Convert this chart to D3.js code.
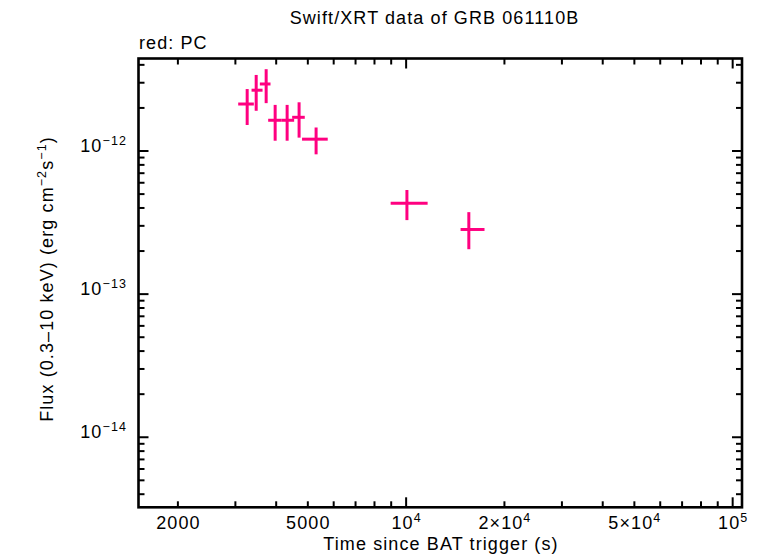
<!DOCTYPE html>
<html>
<head>
<meta charset="utf-8">
<script src="https://cdn.jsdelivr.net/npm/d3@7"></script>
<style>
  body { margin: 0; background: #fff; }
  text { font-family: "Liberation Sans", Arial, sans-serif; letter-spacing: 1.1px; fill: #000; }
</style>
</head>
<body>
<svg id="chart" width="761" height="558"></svg>
<script>
// 数据 (PC 模式)
const time    = [3260, 3474, 3727, 3971, 4321, 4701, 5300, 10056, 15560];
const timeLo  = [3060, 3362, 3565, 3780, 4147, 4477, 4800, 8966, 14680];
const timeHi  = [3417, 3633, 3843, 4147, 4540, 4893, 5753, 11637, 17380];
const flux    = [2.13e-12, 2.66e-12, 2.94e-12, 1.64e-12, 1.64e-12, 1.72e-12, 1.21e-12, 4.31e-13, 2.83e-13];
const fluxLo  = [1.52e-12, 1.91e-12, 2.16e-12, 1.18e-12, 1.18e-12, 1.24e-12, 9.48e-13, 3.29e-13, 2.06e-13];
const fluxHi  = [2.71e-12, 3.40e-12, 3.73e-12, 2.10e-12, 2.10e-12, 2.19e-12, 1.46e-12, 5.34e-13, 3.74e-13];

// 刻度
const xMajor = [1e4, 1e5];
const xMinor = [2000, 3000, 4000, 5000, 6000, 7000, 8000, 9000,
                2e4, 3e4, 4e4, 5e4, 6e4, 7e4, 8e4, 9e4];
const xLabels = [
    { v: 2000, base: "2000", sup: "" },
    { v: 5000, base: "5000", sup: "" },
    { v: 1e4, base: "10", sup: "4" },
    { v: 2e4, base: "2×10", sup: "4" },
    { v: 5e4, base: "5×10", sup: "4" },
    { v: 1e5, base: "10", sup: "5" }
];
const yMajor = [1e-14, 1e-13, 1e-12];
const yMinor = [4e-15, 5e-15, 6e-15, 7e-15, 8e-15, 9e-15,
                2e-14, 3e-14, 4e-14, 5e-14, 6e-14, 7e-14, 8e-14, 9e-14,
                2e-13, 3e-13, 4e-13, 5e-13, 6e-13, 7e-13, 8e-13, 9e-13,
                2e-12, 3e-12, 4e-12];
const yLabels = [
    { v: 1e-12, sup: "−12" },
    { v: 1e-13, sup: "−13" },
    { v: 1e-14, sup: "−14" }
];

const pink = "#ff0080";
const pL = 138.5, pR = 742, pT = 58.5, pB = 507.3;

const svg = d3.select("#chart");

const x = d3.scaleLog().domain([1515, 106800]).range([pL, pR]);
const y = d3.scaleLog().domain([3.24e-15, 4.43e-12]).range([pB, pT]);

// 刻度线 (四边向内)
const tk = svg.append("g").attr("stroke", "#000").attr("stroke-width", 2);
function xTick(v, len) {
    tk.append("line").attr("x1", x(v)).attr("x2", x(v)).attr("y1", pB).attr("y2", pB - len);
    tk.append("line").attr("x1", x(v)).attr("x2", x(v)).attr("y1", pT).attr("y2", pT + len);
}
function yTick(v, len) {
    tk.append("line").attr("y1", y(v)).attr("y2", y(v)).attr("x1", pL).attr("x2", pL + len);
    tk.append("line").attr("y1", y(v)).attr("y2", y(v)).attr("x1", pR).attr("x2", pR - len);
}
xMinor.forEach(v => xTick(v, 6));
xMajor.forEach(v => xTick(v, 10));
yMinor.forEach(v => yTick(v, 6));
yMajor.forEach(v => yTick(v, 10));

// 边框
svg.append("rect")
    .attr("x", pL).attr("y", pT)
    .attr("width", pR - pL).attr("height", pB - pT)
    .attr("fill", "none").attr("stroke", "#000").attr("stroke-width", 2.6);

// x 轴刻度标签
xLabels.forEach(d => {
    const t = svg.append("text")
        .attr("x", x(d.v) + 0.5).attr("y", 529)
        .attr("text-anchor", "middle")
        .attr("font-size", 18);
    t.append("tspan").text(d.base);
    if (d.sup) {
        t.append("tspan").attr("font-size", 12.5).attr("dy", -7).text(d.sup);
    }
});

// y 轴刻度标签
yLabels.forEach(d => {
    const t = svg.append("text")
        .attr("x", 127).attr("y", y(d.v) + 0.7)
        .attr("text-anchor", "end")
        .attr("font-size", 18);
    t.append("tspan").text("10");
    t.append("tspan").attr("font-size", 12.5).attr("dy", -7).text(d.sup);
});

// 误差棒
const pts = time.map((t, i) => ({ t: t, tl: timeLo[i], th: timeHi[i], f: flux[i], fl: fluxLo[i], fh: fluxHi[i] }));
const eb = svg.append("g").attr("stroke", pink).attr("stroke-width", 3);
eb.selectAll("line.h").data(pts).enter().append("line")
    .attr("x1", d => x(d.tl)).attr("x2", d => x(d.th))
    .attr("y1", d => y(d.f)).attr("y2", d => y(d.f));
eb.selectAll("line.v").data(pts).enter().append("line")
    .attr("x1", d => x(d.t)).attr("x2", d => x(d.t))
    .attr("y1", d => y(d.fl)).attr("y2", d => y(d.fh));

// 标题和轴标签
svg.append("text")
    .attr("x", 434.5).attr("y", 24.3)
    .attr("text-anchor", "middle").attr("font-size", 18)
    .text("Swift/XRT data of GRB 061110B");

svg.append("text")
    .attr("x", 139).attr("y", 49)
    .attr("font-size", 18)
    .text("red: PC");

svg.append("text")
    .attr("x", 441).attr("y", 550)
    .attr("text-anchor", "middle").attr("font-size", 18)
    .text("Time since BAT trigger (s)");

const yl = svg.append("text")
    .attr("transform", "translate(53,279) rotate(-90)")
    .attr("text-anchor", "middle").attr("font-size", 18);
yl.append("tspan").text("Flux (0.3–10 keV) (erg cm");
yl.append("tspan").attr("font-size", 12.5).attr("dy", -7).text("−2");
yl.append("tspan").attr("dy", 7).text("s");
yl.append("tspan").attr("font-size", 12.5).attr("dy", -7).text("−1");
yl.append("tspan").attr("dy", 7).text(")");
</script>
</body>
</html>
